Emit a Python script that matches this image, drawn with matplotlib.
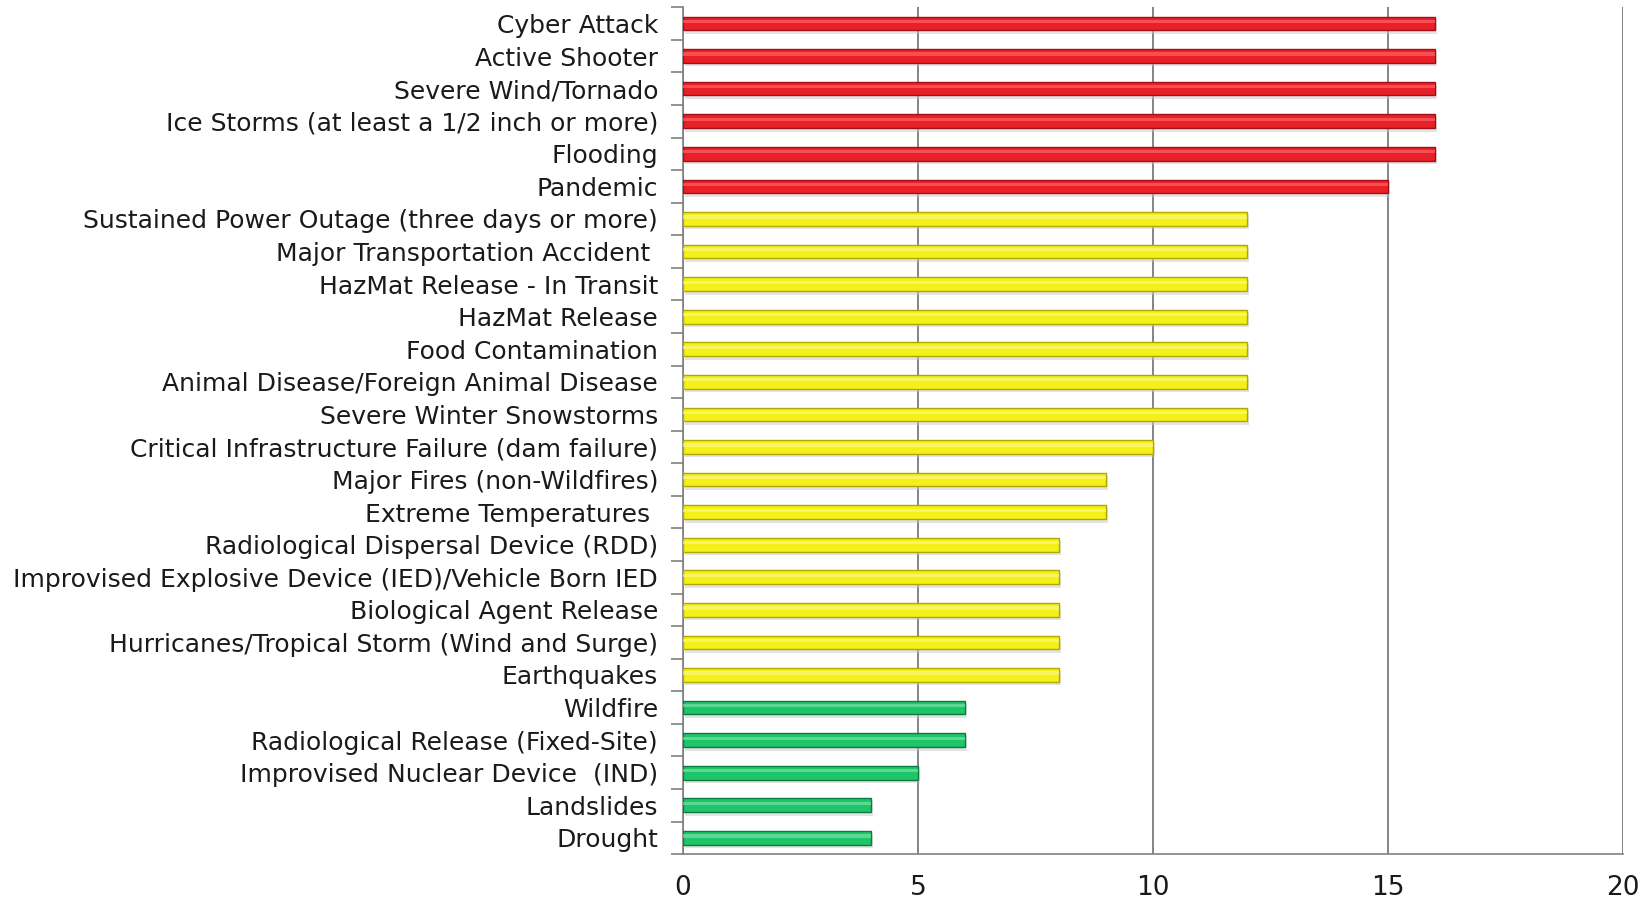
import matplotlib
matplotlib.use("Agg")
import matplotlib.pyplot as plt
import numpy as np

plt.rcParams["font.family"] = ["DejaVu Sans"]

# hazards, top to bottom as shown
hazards = [
    "Cyber Attack",
    "Active Shooter",
    "Severe Wind/Tornado",
    "Ice Storms (at least a 1/2 inch or more)",
    "Flooding",
    "Pandemic",
    "Sustained Power Outage (three days or more)",
    "Major Transportation Accident ",
    "HazMat Release - In Transit",
    "HazMat Release",
    "Food Contamination",
    "Animal Disease/Foreign Animal Disease",
    "Severe Winter Snowstorms",
    "Critical Infrastructure Failure (dam failure)",
    "Major Fires (non-Wildfires)",
    "Extreme Temperatures ",
    "Radiological Dispersal Device (RDD)",
    "Improvised Explosive Device (IED)/Vehicle Born IED",
    "Biological Agent Release",
    "Hurricanes/Tropical Storm (Wind and Surge)",
    "Earthquakes",
    "Wildfire",
    "Radiological Release (Fixed-Site)",
    "Improvised Nuclear Device  (IND)",
    "Landslides",
    "Drought",
]
scores = [16, 16, 16, 16, 16, 15, 12, 12, 12, 12, 12, 12, 12, 10, 9, 9, 8, 8, 8, 8, 8, 6, 6, 5, 4, 4]
risk_level = ["high"] * 6 + ["medium"] * 15 + ["low"] * 5
x_ticks = [0, 5, 10, 15, 20]

# (base, dark edge, highlight)
level_colors = {
    "high": ("#ea2029", "#a01018", "#ff7070"),
    "medium": ("#f4f01a", "#b0a800", "#fcfa90"),
    "low": ("#20c46a", "#0f7a3e", "#80eaaa"),
}

fig = plt.figure(figsize=(16.5, 9.01), dpi=100)
ax = fig.add_axes([0.414, 0.052, 0.5697, 0.94])

y = np.arange(len(hazards))
base = [level_colors[r][0] for r in risk_level]
edge = [level_colors[r][1] for r in risk_level]
light = [level_colors[r][2] for r in risk_level]

# soft shadow, main bar, highlight stripe for the glossy look
ax.barh(y + 0.1, scores, height=0.44, left=0.04, color="#c8c8c8", alpha=0.5, zorder=2)
ax.barh(y, scores, height=0.42, color=base, edgecolor=edge, linewidth=1.0, zorder=3)
ax.barh(y - 0.06, scores, height=0.1, color=light, alpha=0.6, linewidth=0, zorder=4)

ax.set_ylim(len(hazards) - 0.5, -0.5)
ax.set_xlim(0, 20)
ax.set_xticks(x_ticks)
ax.set_xticklabels([str(t) for t in x_ticks])
ax.set_yticks(y)
ax.set_yticklabels(hazards)
ax.tick_params(axis="y", length=0, pad=18, labelsize=18, labelcolor="#1a1a1a")
ax.tick_params(axis="x", length=0, pad=15, labelsize=19, labelcolor="#1a1a1a")

# tick marks between categories on the value axis
ax.set_yticks(np.arange(len(hazards) + 1) - 0.5, minor=True)
ax.tick_params(axis="y", which="minor", length=9, width=1.2, color="#808080")

ax.grid(axis="x", color="#707070", linewidth=1.2, zorder=1)
ax.set_axisbelow(True)
for spine in ("top", "right"):
    ax.spines[spine].set_visible(False)
for spine in ("bottom", "left"):
    ax.spines[spine].set_color("#808080")
    ax.spines[spine].set_linewidth(1.2)

fig.savefig("out.png", dpi=100, facecolor="white")
